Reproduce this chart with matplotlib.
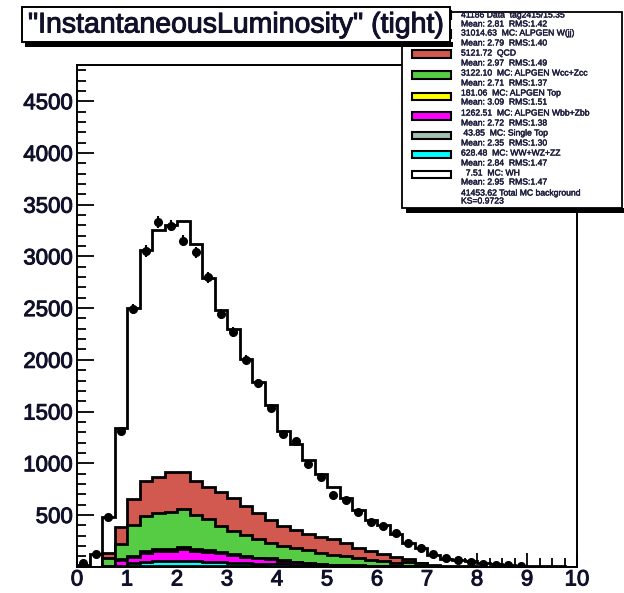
import numpy as np
import matplotlib
matplotlib.use("Agg")
import matplotlib.pyplot as plt
import matplotlib.patheffects as pe
from matplotlib.patches import Rectangle

plt.rcParams['font.family'] = ['Liberation Sans', 'DejaVu Sans']

# ---- binning: 40 bins of 0.25 between 0 and 10 ----
x_min, x_max, n_bins = 0.0, 10.0, 40

# ---- observed data counts per bin ----
data_counts = [32, 122, 476, 1312, 2494, 3050, 3330, 3298, 3153, 3040,
               2799, 2446, 2268, 2002, 1772, 1532, 1287, 1213, 991, 869,
               692, 644, 531, 434, 392, 322, 232, 177, 122, 80,
               62, 42, 26, 16, 16, 4]

# ---- MC components per bin (stack order: bottom first) ----
mc_wh = [0, 0, 0, 0, 0.2, 0.4, 0.6, 0.7, 0.8, 0.8, 0.7, 0.7, 0.6, 0.5,
         0.5, 0.4, 0.3, 0.3, 0.2, 0.2, 0.1, 0.1]
mc_single_top = [0, 0, 0, 1, 3, 4, 5, 5, 5, 4, 4, 3, 3, 2, 2, 1, 1]
mc_diboson = [0, 0, 3, 6, 32, 41, 46, 49, 52, 50, 45, 41, 36, 32, 27, 24,
              21, 18, 14, 11, 9, 7, 6, 5, 4, 3, 2, 2, 1]
mc_wbb = [0, 0, 4, 60, 62, 90, 102, 99, 113, 99, 95, 84, 73, 62, 50, 48,
          36, 24, 18, 13, 9, 7, 5, 4, 3, 2, 2, 1, 1]
mc_top = [0, 0, 0, 4, 8, 12, 15, 16, 17, 17, 16, 14, 13, 11, 9, 8, 6, 5,
          4, 3, 2, 2, 1, 1]
mc_wcc = [0, 0, 73, 145, 297, 345, 346, 361, 369, 328, 299, 250, 221, 198,
          178, 150, 138, 130, 121, 110, 97, 86, 70, 57, 45, 35, 44, 36, 3]
mc_qcd = [0, 0, 56, 164, 251, 338, 354, 380, 354, 331, 312, 331, 319, 280,
          248, 219, 190, 180, 160, 153, 147, 123, 95, 87, 70, 57, 26, 0,
          7, 5, 4, 2, 1]
mc_wjj = [20, 120, 345, 959, 1847, 2233, 2390, 2397, 2429, 2291, 2021,
          1754, 1635, 1425, 1267, 1108, 922, 833, 713, 602, 508, 435, 370,
          296, 280, 218, 151, 138, 101, 73, 62, 50, 36, 22, 13, 7, 5, 3, 2, 1]

# ---- legend texts ----
legend_lines = [
    "41186 Data  tag2415/15.35",
    "Mean: 2.81  RMS:1.42",
    "31014.63  MC: ALPGEN W(jj)",
    "Mean: 2.79  RMS:1.40",
    "5121.72  QCD",
    "Mean: 2.97  RMS:1.49",
    "3122.10  MC: ALPGEN Wcc+Zcc",
    "Mean: 2.71  RMS:1.37",
    "181.06  MC: ALPGEN Top",
    "Mean: 3.09  RMS:1.51",
    "1262.51  MC: ALPGEN Wbb+Zbb",
    "Mean: 2.72  RMS:1.38",
    " 43.85  MC: Single Top",
    "Mean: 2.35  RMS:1.30",
    "628.48  MC: WW+WZ+ZZ",
    "Mean: 2.84  RMS:1.47",
    "  7.51  MC: WH",
    "Mean: 2.95  RMS:1.47",
    "41453.62 Total MC background",
    "KS=0.9723",
]
title_text = '"InstantaneousLuminosity" (tight)'
y_ticks = [500, 1000, 1500, 2000, 2500, 3000, 3500, 4000, 4500]
x_ticks = list(range(0, 11))

C_QCD = '#d2594f'
C_WCC = '#55cc44'
C_TOP = '#ffff00'
C_WBB = '#ff00ff'
C_ST = '#a2bfb0'
C_VV = '#00ffff'
C_TEXT = '#10102a'

W, H = 624, 593
heavy = [pe.withStroke(linewidth=0.7, foreground=C_TEXT)]


def pad(v):
    v = list(v)
    return np.array(v + [0.0] * (n_bins - len(v)), dtype=float)


def fx(x):
    return x / W


def fy(y):
    return 1 - y / H


edges = np.linspace(x_min, x_max, n_bins + 1)
centers = 0.5 * (edges[:-1] + edges[1:])

components = [
    (pad(mc_wh), 'white'),
    (pad(mc_single_top), C_ST),
    (pad(mc_diboson), C_VV),
    (pad(mc_wbb), C_WBB),
    (pad(mc_top), C_TOP),
    (pad(mc_wcc), C_WCC),
    (pad(mc_qcd), C_QCD),
    (pad(mc_wjj), 'white'),
]
cumulative = np.cumsum([c for c, _ in components], axis=0)

fig = plt.figure(figsize=(W / 100, H / 100), dpi=100)
fig.patch.set_facecolor('white')
ax = fig.add_axes([fx(77), fy(566.7), fx(500), (566.7 - 65) / H])

# stacked MC histograms, drawn from the tallest cumulative layer downwards
for k in range(len(components) - 1, -1, -1):
    color = components[k][1]
    z = 2 + (len(components) - k) * 0.1
    ax.stairs(cumulative[k], edges, baseline=0, fill=True,
              facecolor=color, edgecolor='none', zorder=z)
    ax.stairs(cumulative[k], edges, baseline=0, fill=False,
              color='black', lw=2.0, zorder=z + 0.05)

# data points with statistical errors
dc = pad(data_counts)
mask = dc > 0
ax.errorbar(centers[mask], dc[mask], yerr=np.sqrt(dc[mask]), fmt='o',
            ms=5.5, color='black', ecolor='black', elinewidth=1.5,
            capsize=0, zorder=10)

ax.set_xlim(x_min, x_max)
ax.set_ylim(0, 4850)
ax.set_xticks(x_ticks)
ax.set_xticks(np.arange(0, 10.01, 0.25), minor=True)
ax.set_yticks(y_ticks)
ax.set_yticks(np.arange(0, 4851, 100), minor=True)
ax.set_xticklabels([str(t) for t in x_ticks])
ax.set_yticklabels([str(t) for t in y_ticks])
ax.tick_params(axis='y', which='major', direction='in', length=12.2,
               width=1.3, labelsize=16, pad=3, right=False,
               labelcolor=C_TEXT)
ax.tick_params(axis='y', which='minor', direction='in', length=6.5,
               width=1.3, right=False)
ax.tick_params(axis='x', which='major', direction='in', length=10,
               width=1.3, labelsize=16, pad=2, top=False,
               labelcolor=C_TEXT)
ax.tick_params(axis='x', which='minor', direction='in', length=6.5,
               width=1.3, top=False)
for lbl in ax.get_xticklabels() + ax.get_yticklabels():
    lbl.set_path_effects(heavy)
for s in ax.spines.values():
    s.set_linewidth(1.4)

# legend panel (drawn in figure pixel coordinates)
lg_l, lg_t, lg_r, lg_b = 402, 12, 622, 208
fig.patches.append(Rectangle((fx(lg_l + 4), fy(lg_b + 5)),
                             fx(W - lg_l), 5 / H, transform=fig.transFigure,
                             facecolor='black', edgecolor='none', zorder=20))
fig.patches.append(Rectangle((fx(lg_l), fy(lg_b)), fx(lg_r - lg_l),
                             (lg_b - lg_t) / H, transform=fig.transFigure,
                             facecolor='white', edgecolor='black', lw=1.3,
                             zorder=21))

line_y = [15, 24, 33, 43, 53, 63, 73, 83, 93, 102, 113, 123, 133, 143, 153,
          163, 173, 182, 193, 201]
for txt, yy in zip(legend_lines, line_y):
    fig.text(fx(461), fy(yy), txt, fontsize=6.2, color='#1c1c3c',
             va='center', ha='left', zorder=22,
             path_effects=[pe.withStroke(linewidth=0.3,
                                         foreground='#1c1c3c')])

swatches = [(15, 'white'), (34, 'white'), (54, C_QCD), (75, C_WCC),
            (96, C_TOP), (116, C_WBB), (135, C_ST), (154, C_VV),
            (174, 'white')]
for yy, col in swatches:
    fig.patches.append(Rectangle((fx(412), fy(yy + 3.5)), fx(39), 7 / H,
                                 transform=fig.transFigure, facecolor=col,
                                 edgecolor='black', lw=1.5, zorder=22))

# title panel
tl, tt, tr, tb = 22, 7, 450, 42
fig.patches.append(Rectangle((fx(tl + 3), fy(tb + 5)), fx(tr - tl), 5 / H,
                             transform=fig.transFigure, facecolor='black',
                             edgecolor='none', zorder=30))
fig.patches.append(Rectangle((fx(tl), fy(tb)), fx(tr - tl), (tb - tt) / H,
                             transform=fig.transFigure, facecolor='white',
                             edgecolor='black', lw=1.4, zorder=31))
fig.text(fx((tl + tr) / 2), fy((tt + tb) / 2 + 1), title_text, fontsize=20.5,
         color=C_TEXT, ha='center', va='center', zorder=32,
         path_effects=heavy)

fig.savefig('out.png', dpi=100)
